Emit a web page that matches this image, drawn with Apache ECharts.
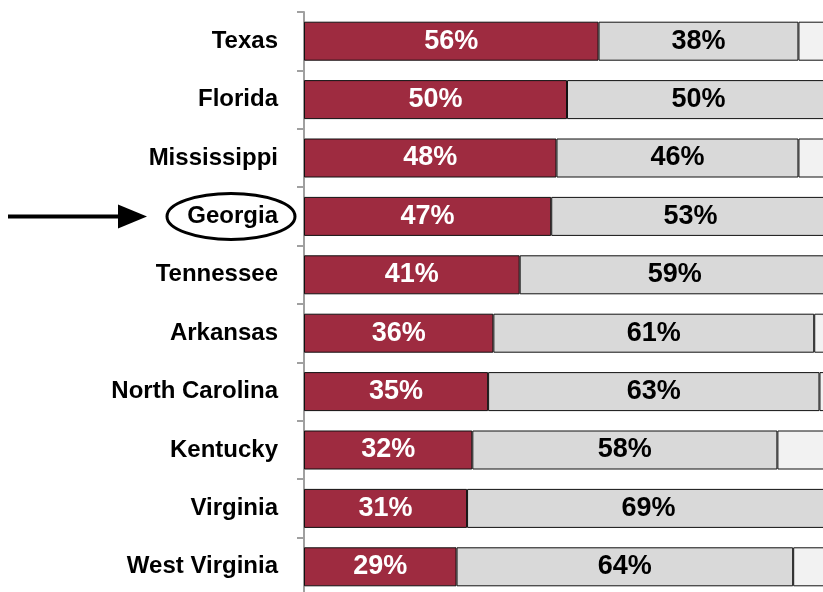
<!DOCTYPE html>
<html>
<head>
<meta charset="utf-8">
<script src="https://cdn.jsdelivr.net/npm/echarts@6/dist/echarts.min.js"></script>
<style>html,body{margin:0;padding:0;background:#fff}#c{width:823px;height:592px}</style>
</head>
<body>
<div id="c"></div>
<script>
const states = ['Texas','Florida','Mississippi','Georgia','Tennessee','Arkansas','North Carolina','Kentucky','Virginia','West Virginia'];
const redValues = [56, 50, 48, 47, 41, 36, 35, 32, 31, 29];
const grayValues = [38, 50, 46, 53, 59, 61, 63, 58, 69, 64];
const restValues = [6, 0, 6, 0, 0, 3, 2, 10, 0, 7];
const highlighted = 'Georgia';

const chart = echarts.init(document.getElementById('c'), null, {renderer: 'canvas'});
const font = '"Liberation Sans", Arial, sans-serif';
const bar = (name, data, color, labelColor) => ({
  name, type: 'bar', stack: 't', data, barWidth: 39,
  itemStyle: {color, borderColor: '#111', borderWidth: 1},
  label: labelColor ? {show: true, position: 'inside', formatter: '{c}%', color: labelColor,
    fontFamily: font, fontWeight: 'bold', fontSize: 27} : {show: false},
  emphasis: {disabled: true}, silent: true
});
chart.setOption({
  animation: false,
  grid: {left: 304, top: 12, width: 526, height: 584, containLabel: false, outerBoundsMode: 'none'},
  xAxis: {type: 'value', min: 0, max: 100, show: false},
  yAxis: {
    type: 'category', data: states, inverse: true,
    axisLine: {show: true, lineStyle: {color: '#a0a0a0', width: 2}},
    axisTick: {show: true, length: 7, lineStyle: {color: '#a0a0a0', width: 2}},
    axisLabel: {margin: 26, color: '#000', fontFamily: font, fontWeight: 'bold', fontSize: 24}
  },
  series: [
    bar('red', redValues, '#9e2b40', '#fff'),
    bar('gray', grayValues, '#d9d9d9', '#000'),
    bar('rest', restValues, '#f2f2f2', null)
  ]
});
const gy = chart.convertToPixel({yAxisIndex: 0}, highlighted);
chart.setOption({
  graphic: [
    {type: 'ellipse', shape: {cx: 231, cy: gy, rx: 64, ry: 23}, style: {fill: 'none', stroke: '#000', lineWidth: 3}, z: 100},
    {type: 'line', shape: {x1: 8, y1: gy, x2: 122, y2: gy}, style: {stroke: '#000', lineWidth: 4}, z: 100},
    {type: 'polygon', shape: {points: [[118, gy - 12], [147, gy], [118, gy + 12]]}, style: {fill: '#000'}, z: 100}
  ]
});
</script>
</body>
</html>
